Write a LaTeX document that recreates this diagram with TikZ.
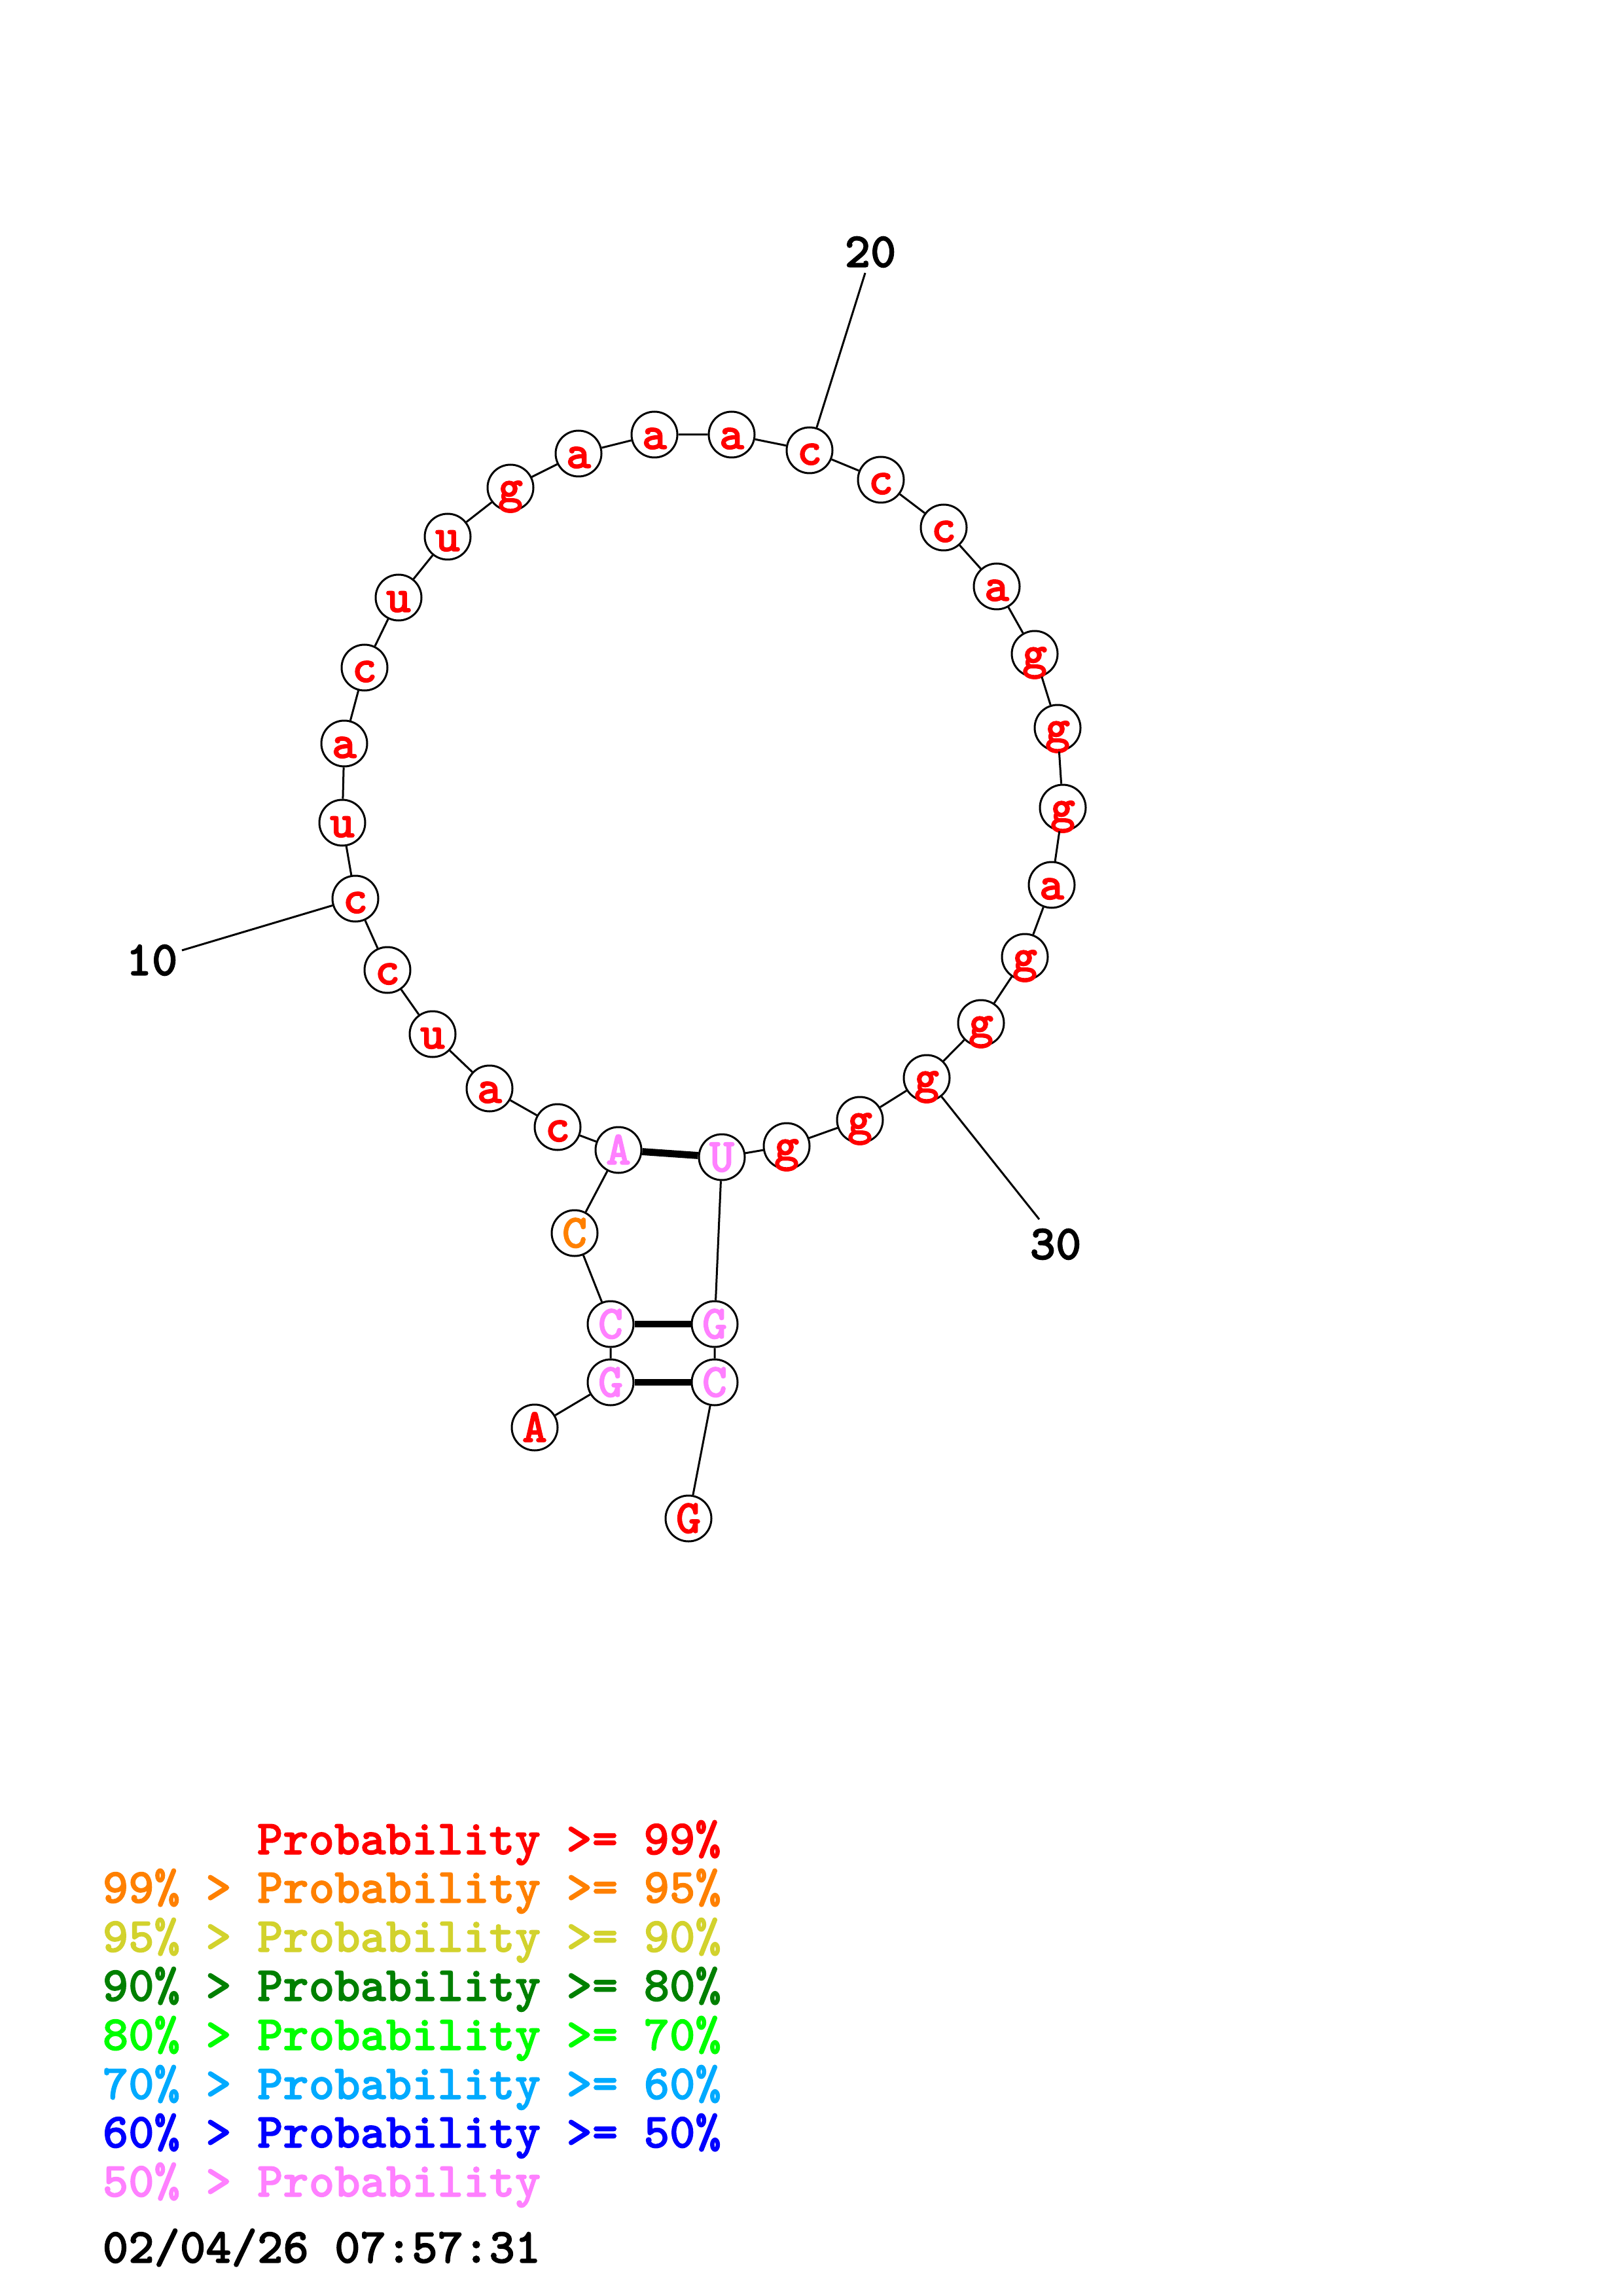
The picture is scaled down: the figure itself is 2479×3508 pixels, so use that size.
\documentclass[tikz,border=0pt]{standalone}
\usepackage{fontspec}
\newfontfamily\rnafont{lmmonolt10-bold.otf}[FakeBold=1.6]
\definecolor{pr99}{RGB}{255,0,0}
\definecolor{pr95}{RGB}{255,128,0}
\definecolor{pr90}{RGB}{210,210,45}
\definecolor{pr80}{RGB}{0,128,0}
\definecolor{pr70}{RGB}{0,255,0}
\definecolor{pr60}{RGB}{0,170,255}
\definecolor{pr50}{RGB}{0,0,255}
\definecolor{prlo}{RGB}{255,128,255}
\begin{document}
\begin{tikzpicture}[x=0.24pt,y=-0.24pt,
  nt/.style={circle,draw,line width=0.72pt,fill=white,minimum size=16.8pt,inner sep=0pt,
    text height=10.6pt,text depth=0pt,font=\rnafont\fontsize{17.5}{17.5}\selectfont},
  num/.style={font=\rnafont\fontsize{18}{18}\selectfont},
  leg/.style={anchor=base west,inner sep=0pt,font=\rnafont\fontsize{18}{18}\selectfont},
  bond/.style={draw,line width=2.6pt}]
\useasboundingbox (0,0) rectangle (2479,3508);
% stem and 5' end
\node[nt,text=pr99] (n1) at (817,2181) {A};
\node[nt,text=prlo] (n2) at (933,2112) {G};
\node[nt,text=prlo] (n3) at (933,2023) {C};
\node[nt,text=pr95] (n4) at (878,1884) {C};
\node[nt,text=prlo] (n5) at (945,1757) {A};
% loop
\node[nt,text=pr99] (n6) at (852,1722) {c};
\node[nt,text=pr99] (n7) at (748,1663) {a};
\node[nt,text=pr99] (n8) at (661,1580) {u};
\node[nt,text=pr99] (n9) at (592,1482) {c};
\node[nt,text=pr99] (n10) at (543,1373) {c};
\node[nt,text=pr99] (n11) at (523,1257) {u};
\node[nt,text=pr99] (n12) at (526,1136) {a};
\node[nt,text=pr99] (n13) at (557,1020) {c};
\node[nt,text=pr99] (n14) at (609,913) {u};
\node[nt,text=pr99] (n15) at (684,820) {u};
\node[nt,text=pr99] (n16) at (780,745) {g};
\node[nt,text=pr99] (n17) at (884,693) {a};
\node[nt,text=pr99] (n18) at (1000,664) {a};
\node[nt,text=pr99] (n19) at (1118,664) {a};
\node[nt,text=pr99] (n20) at (1237,688) {c};
\node[nt,text=pr99] (n21) at (1346,733) {c};
\node[nt,text=pr99] (n22) at (1442,806) {c};
\node[nt,text=pr99] (n23) at (1523,896) {a};
\node[nt,text=pr99] (n24) at (1581,999) {g};
\node[nt,text=pr99] (n25) at (1616,1112) {g};
\node[nt,text=pr99] (n26) at (1624,1234) {g};
\node[nt,text=pr99] (n27) at (1607,1352) {a};
\node[nt,text=pr99] (n28) at (1566,1462) {g};
\node[nt,text=pr99] (n29) at (1499,1563) {g};
\node[nt,text=pr99] (n30) at (1416,1647) {g};
\node[nt,text=pr99] (n31) at (1314,1711) {g};
\node[nt,text=pr99] (n32) at (1202,1751) {g};
\node[nt,text=prlo] (n33) at (1103,1768) {U};
% 3' side
\node[nt,text=prlo] (n34) at (1092,2023) {G};
\node[nt,text=prlo] (n35) at (1092,2112) {C};
\node[nt,text=pr99] (n36) at (1052,2320) {G};
\path[draw,line width=0.72pt] (n1) -- (n2) -- (n3) -- (n4) -- (n5) -- (n6) -- (n7) -- (n8) -- (n9)
  -- (n10) -- (n11) -- (n12) -- (n13) -- (n14) -- (n15) -- (n16) -- (n17) -- (n18) -- (n19)
  -- (n20) -- (n21) -- (n22) -- (n23) -- (n24) -- (n25) -- (n26) -- (n27) -- (n28) -- (n29)
  -- (n30) -- (n31) -- (n32) -- (n33) -- (n34) -- (n35) -- (n36);
\path[bond] (n5) -- (n33);
\path[bond] (n3) -- (n34);
\path[bond] (n2) -- (n35);
% position marks
\node[num] (l10) at (232,1467) {10};
\node[num] (l20) at (1330,385) {20};
\node[num] (l30) at (1613,1901) {30};
\coordinate (e10) at (278,1452);
\coordinate (e20) at (1322,417);
\coordinate (e30) at (1588,1863);
\path[draw,line width=0.72pt] (n10) -- (e10);
\path[draw,line width=0.72pt] (n20) -- (e20);
\path[draw,line width=0.72pt] (n30) -- (e30);
% legend
\node[leg,text=pr99] (k1) at (392,2833) {Probability >= 99\%};
\node[leg,text=pr95] (k2) at (156,2907) {99\% > Probability >= 95\%};
\node[leg,text=pr90] (k3) at (156,2982) {95\% > Probability >= 90\%};
\node[leg,text=pr80] (k4) at (156,3057) {90\% > Probability >= 80\%};
\node[leg,text=pr70] (k5) at (156,3132) {80\% > Probability >= 70\%};
\node[leg,text=pr60] (k6) at (156,3207) {70\% > Probability >= 60\%};
\node[leg,text=pr50] (k7) at (156,3281) {60\% > Probability >= 50\%};
\node[leg,text=prlo] (k8) at (156,3356) {50\% > Probability};
\node[leg] (date) at (156,3457) {02/04/26 07:57:31};
\end{tikzpicture}
\end{document}
